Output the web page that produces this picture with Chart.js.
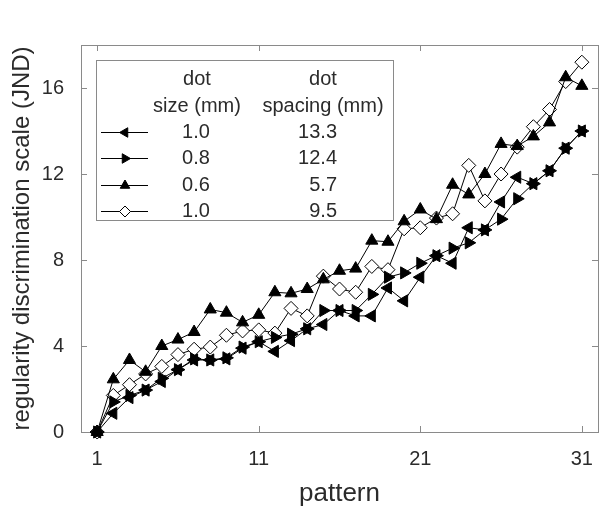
<!DOCTYPE html>
<html>
<head>
<meta charset="utf-8">
<script src="https://cdn.jsdelivr.net/npm/chart.js@4.4.1/dist/chart.umd.min.js"></script>
<style>
  html, body { margin: 0; padding: 0; background: #fff; }
</style>
</head>
<body>
<canvas id="jndChart" width="612" height="522"></canvas>
<script>
// pattern number on x, JND on y
const patterns = [1, 2, 3, 4, 5, 6, 7, 8, 9, 10, 11, 12, 13, 14, 15, 16, 17, 18, 19, 20, 21, 22, 23, 24, 25, 26, 27, 28, 29, 30, 31];
const xTicks = [1, 11, 21, 31];
const yTicks = [0, 4, 8, 12, 16];

// one list per condition (dot size / dot spacing)
const spacing133 = [0, 0.87, 1.6, 1.95, 2.35, 2.9, 3.35, 3.35, 3.4, 3.9, 4.2, 3.75, 4.25, 4.8, 5.0, 5.65, 5.4, 5.4, 6.7, 6.1, 7.2, 8.2, 7.85, 9.5, 9.4, 10.7, 11.85, 11.55, 12.15, 13.2, 14.0];
const spacing124 = [0, 1.4, 1.7, 1.95, 2.5, 2.9, 3.4, 3.35, 3.45, 3.95, 4.2, 4.4, 4.55, 4.8, 5.65, 5.65, 5.65, 6.4, 7.2, 7.4, 7.85, 8.2, 8.55, 8.8, 9.4, 9.9, 10.85, 11.55, 12.15, 13.2, 14.0];
const spacing57 = [0, 2.45, 3.35, 2.8, 4.0, 4.3, 4.65, 5.7, 5.55, 5.1, 5.45, 6.5, 6.45, 6.65, 7.1, 7.5, 7.6, 8.9, 8.85, 9.8, 10.35, 9.9, 11.5, 11.05, 12.0, 13.4, 13.3, 13.75, 14.4, 16.5, 16.1];
const spacing95 = [0, 1.7, 2.2, 2.7, 3.05, 3.6, 3.85, 3.95, 4.5, 4.7, 4.75, 4.6, 5.75, 5.4, 7.25, 6.65, 6.5, 7.7, 7.55, 9.45, 9.5, 9.95, 10.15, 12.4, 10.75, 12.0, 13.25, 14.2, 15.0, 16.3, 17.2];

const dotSize = ['1.0', '0.8', '0.6', '1.0'];
const dotSpacing = ['13.3', '12.4', '5.7', '9.5'];

const FONT = '"Liberation Sans", Helvetica, Arial, sans-serif';
const TEXT = '#2b2b2b';
const AXIS = '#8a8a8a';

const markers = [
  { style: 'triangle', rotation: -90, fill: '#000' },
  { style: 'triangle', rotation: 90, fill: '#000' },
  { style: 'triangle', rotation: 0, fill: '#000' },
  { style: 'rectRot', rotation: 0, fill: '#fff' }
];

function toPoints(values) {
  return patterns.map((p, i) => ({ x: p, y: values[i] }));
}

const series = [spacing133, spacing124, spacing57, spacing95];

const datasets = series.map((vals, i) => ({
  label: dotSize[i] + ' / ' + dotSpacing[i],
  data: toPoints(vals),
  borderColor: '#000',
  borderWidth: 1,
  backgroundColor: markers[i].fill,
  pointStyle: markers[i].style,
  rotation: markers[i].rotation,
  pointRadius: 7,
  pointBorderColor: '#000',
  pointBackgroundColor: markers[i].fill,
  pointBorderWidth: 1,
  tension: 0,
  clip: false
}));

// box with inward ticks, matlab style
const boxPlugin = {
  id: 'box',
  beforeDatasetsDraw(chart) {
    const { ctx, chartArea: a, scales } = chart;
    ctx.save();
    ctx.strokeStyle = AXIS;
    ctx.lineWidth = 1;
    ctx.strokeRect(a.left + 0.5, a.top + 0.5, a.right - a.left, a.bottom - a.top);
    ctx.beginPath();
    xTicks.forEach(v => {
      const x = Math.round(scales.x.getPixelForValue(v)) + 0.5;
      ctx.moveTo(x, a.bottom); ctx.lineTo(x, a.bottom - 6);
      ctx.moveTo(x, a.top); ctx.lineTo(x, a.top + 6);
    });
    yTicks.forEach(v => {
      const y = Math.round(scales.y.getPixelForValue(v)) + 0.5;
      ctx.moveTo(a.left, y); ctx.lineTo(a.left + 6, y);
      ctx.moveTo(a.right, y); ctx.lineTo(a.right - 6, y);
    });
    ctx.stroke();
    ctx.restore();
  }
};

// the legend is a little table, so draw it by hand
const tableLegend = {
  id: 'tableLegend',
  afterDraw(chart) {
    const ctx = chart.ctx;
    const bx = 96, by = 60, bw = 297, bh = 160;
    ctx.save();
    ctx.fillStyle = '#fff';
    ctx.fillRect(bx, by, bw, bh);
    ctx.strokeStyle = AXIS;
    ctx.lineWidth = 1;
    ctx.strokeRect(bx + 0.5, by + 0.5, bw, bh);

    ctx.fillStyle = TEXT;
    ctx.font = '20px ' + FONT;
    ctx.textBaseline = 'middle';
    ctx.textAlign = 'center';
    ctx.fillText('dot', 197, 79);
    ctx.fillText('size (mm)', 197, 106);
    ctx.fillText('dot', 323, 79);
    ctx.fillText('spacing (mm)', 323, 106);

    const rowY = [132, 158, 185, 211];
    rowY.forEach((y, i) => {
      ctx.strokeStyle = '#000';
      ctx.beginPath();
      ctx.moveTo(101, y + 0.5);
      ctx.lineTo(148, y + 0.5);
      ctx.stroke();
      ctx.fillStyle = markers[i].fill;
      ctx.strokeStyle = '#000';
      Chart.helpers.drawPoint(ctx, {
        pointStyle: markers[i].style,
        rotation: markers[i].rotation,
        radius: 5.5,
        borderWidth: 1
      }, 125, y + 0.5);
      ctx.fillStyle = TEXT;
      ctx.textAlign = 'center';
      ctx.fillText(dotSize[i], 196, y);
      ctx.textAlign = 'right';
      ctx.fillText(dotSpacing[i], 337, y);
    });
    ctx.restore();
  }
};

const ctx = document.getElementById('jndChart').getContext('2d');
const jndChart = new Chart(ctx, {
  type: 'line',
  data: { datasets: datasets },
  options: {
    responsive: false,
    animation: false,
    devicePixelRatio: 1,
    layout: { padding: { top: 45, right: 14, left: 0, bottom: 0 } },
    plugins: {
      legend: { display: false },
      tooltip: { enabled: false }
    },
    scales: {
      x: {
        type: 'linear',
        min: 0,
        max: 32,
        grid: { display: false, drawTicks: false },
        border: { display: false },
        afterBuildTicks: s => { s.ticks = xTicks.map(v => ({ value: v })); },
        afterFit: s => { s.height = 90; },
        ticks: { color: TEXT, padding: 15, font: { family: FONT, size: 20 } },
        title: {
          display: true,
          text: 'pattern',
          color: TEXT,
          font: { family: FONT, size: 26 },
          padding: { top: 0, bottom: 13 }
        }
      },
      y: {
        min: 0,
        max: 18,
        grid: { display: false, drawTicks: false },
        border: { display: false },
        afterBuildTicks: s => { s.ticks = yTicks.map(v => ({ value: v })); },
        afterFit: s => { s.width = 81; },
        ticks: { color: TEXT, padding: 17, font: { family: FONT, size: 20 } },
        title: {
          display: true,
          text: 'regularity discrimination scale (JND)',
          color: TEXT,
          font: { family: FONT, size: 24 },
          padding: { top: 8, bottom: 0 }
        }
      }
    }
  },
  plugins: [boxPlugin, tableLegend]
});
</script>
</body>
</html>
